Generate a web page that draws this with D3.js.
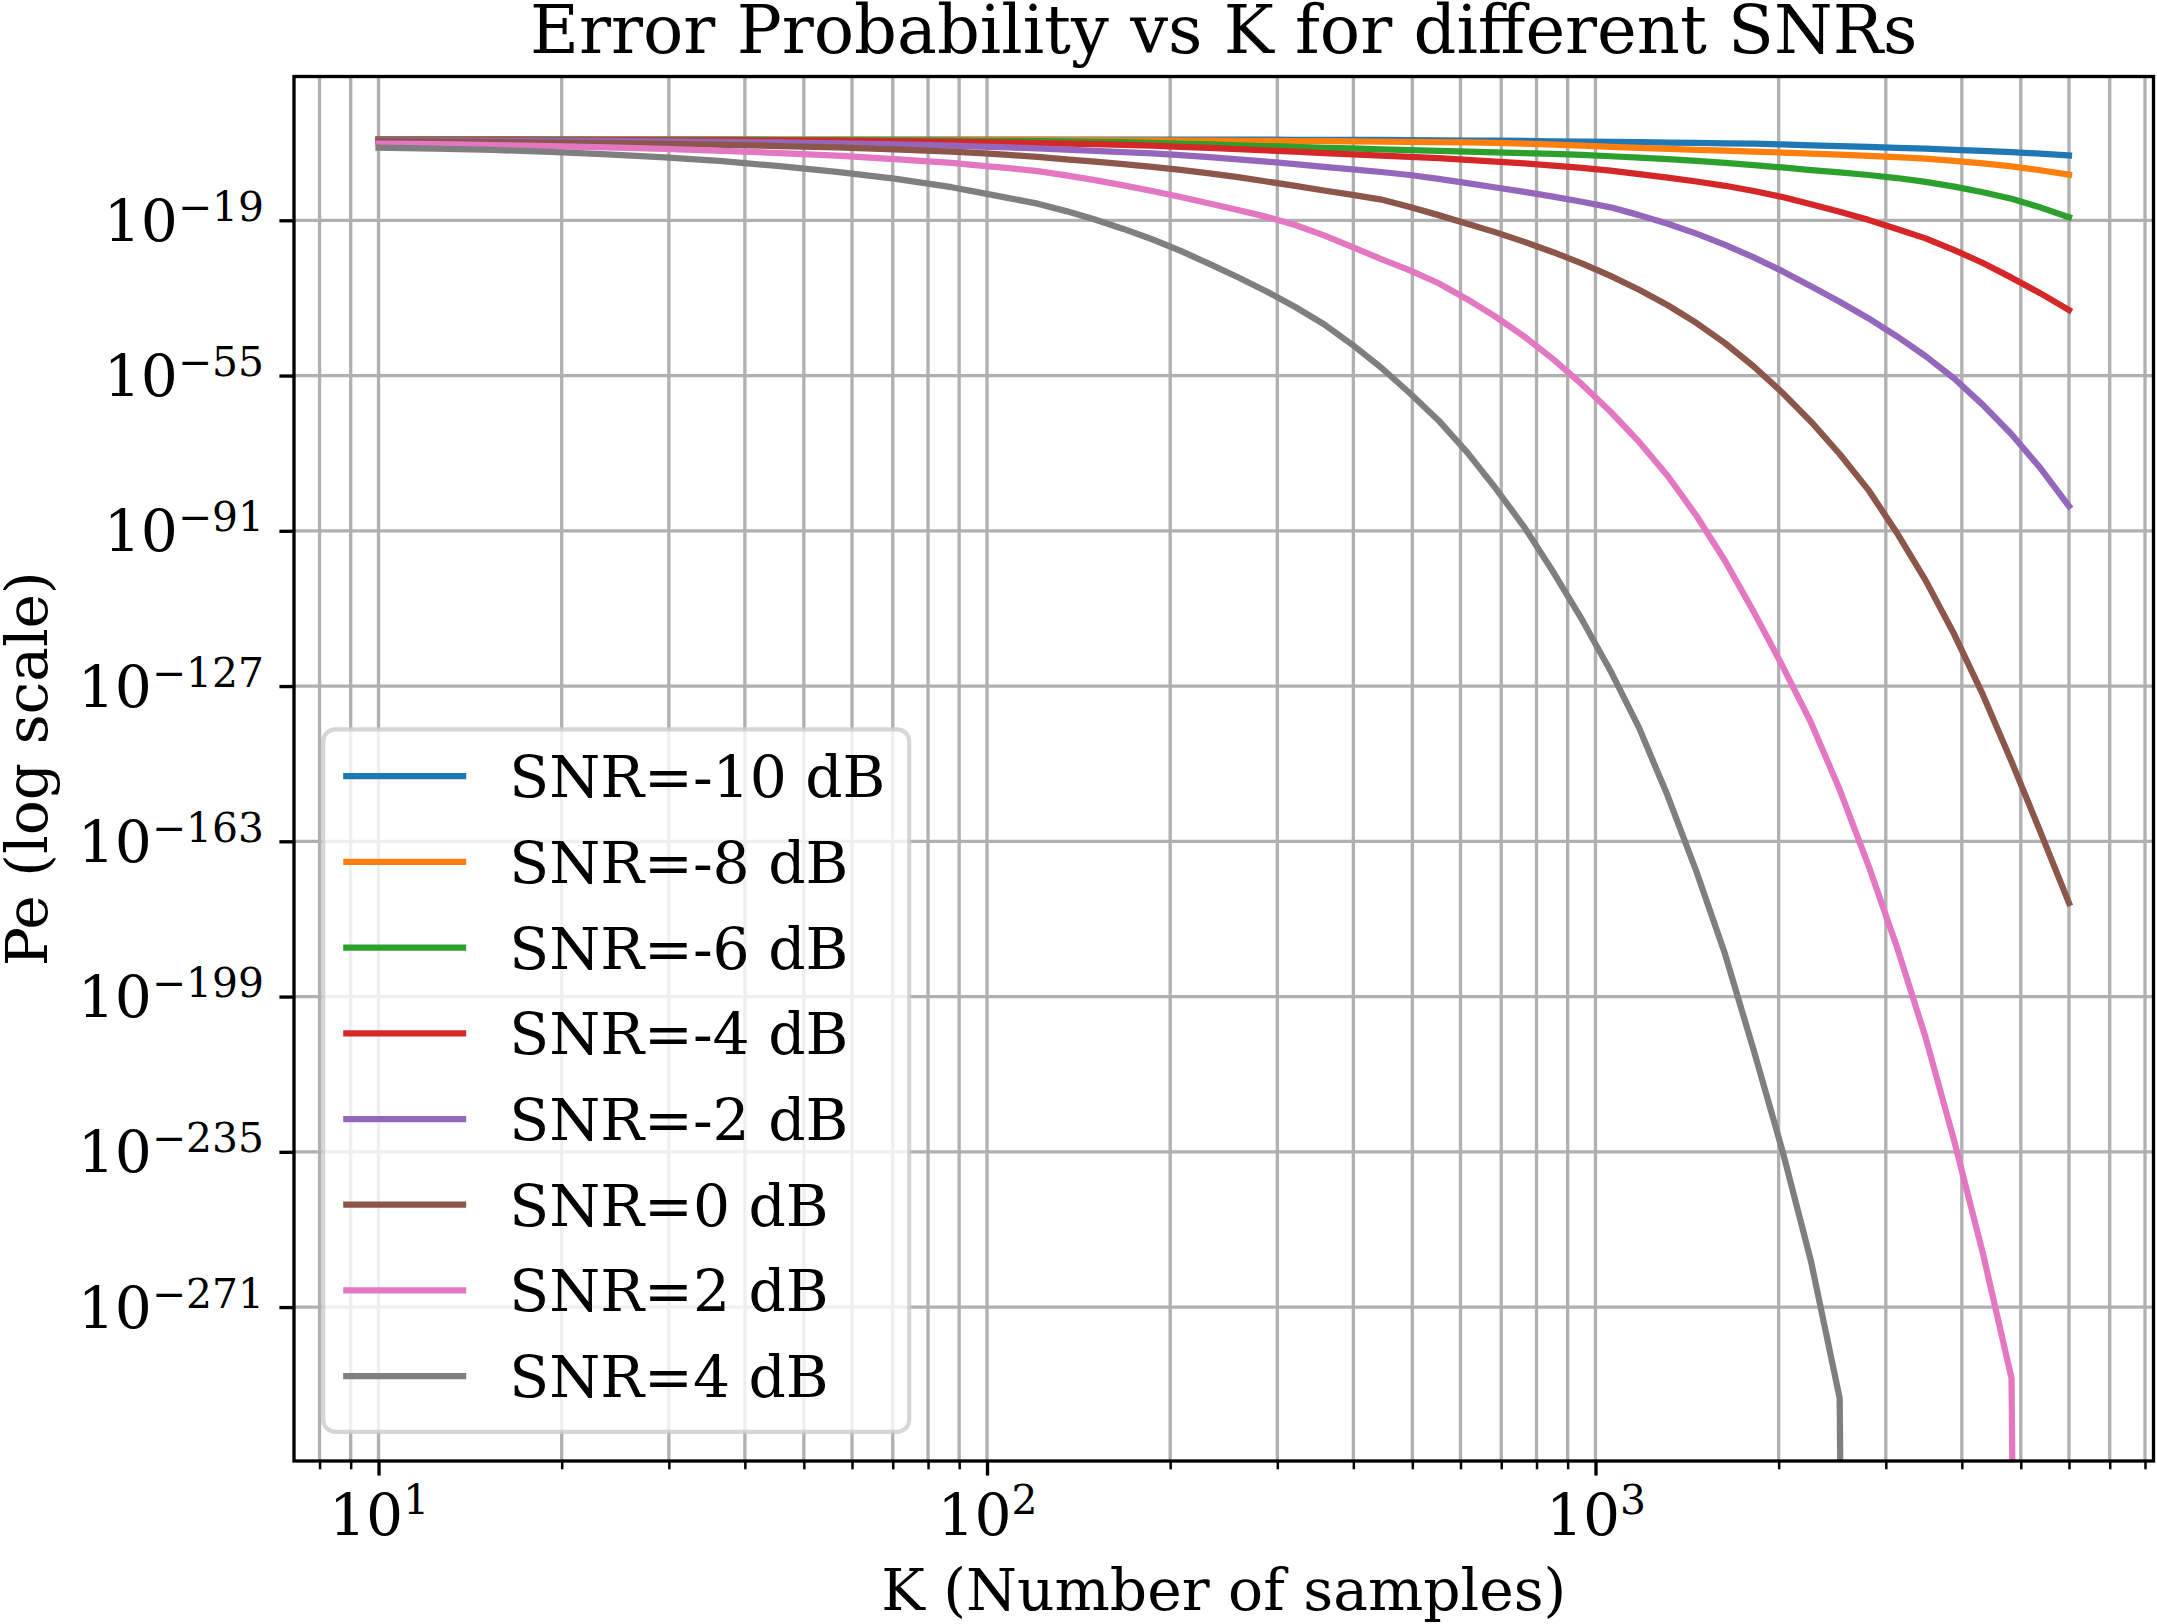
<!DOCTYPE html>
<html>
<head>
<meta charset="utf-8">
<script src="https://cdn.jsdelivr.net/npm/d3@7"></script>
<style>
  body { margin: 0; background: #fff; }
  text { font-family: "DejaVu Serif", serif; fill: #000; }
</style>
</head>
<body>
<script>
var kValues = [10, 12.42, 15.43, 19.16, 23.80, 29.57, 36.74, 45.64, 56.68, 70.41, 87.46,
  97.46, 108.6, 121.1, 134.9, 150.4, 167.6, 186.8, 208.1, 232.0, 258.5, 288.1, 321.1, 357.9, 398.9,
  444.6, 495.5, 552.2, 615.4, 685.9, 764.4, 851.9, 949.4, 1058.6, 1179.5, 1314.6, 1465.1, 1633.2,
  1820.1, 2028.5, 2260.6, 2519.3, 2807.8, 3129.1, 3487.4, 3886.5, 4331.6, 4827.6, 5380.2, 6000];

var snrLabels = ["SNR=-10 dB", "SNR=-8 dB", "SNR=-6 dB", "SNR=-4 dB",
  "SNR=-2 dB", "SNR=0 dB", "SNR=2 dB", "SNR=4 dB"];

var peSnrM10 = [0.562, 0.562, 0.562, 0.562, 0.550, 0.550, 0.550, 0.537, 0.537, 0.537, 0.525,
  0.525, 0.525, 0.513, 0.513, 0.501, 0.501, 0.501, 0.490, 0.490, 0.479, 0.479, 0.468, 0.457, 0.437,
  0.417, 0.389, 0.355, 0.316, 0.282, 0.245, 0.209, 0.178, 0.151, 0.126, 0.107, 0.0891, 0.0708,
  0.0562, 0.0398, 0.0251, 0.0158, 0.0100, 0.00631, 0.00398, 0.00224, 0.00126, 0.000631, 0.000282, 0.000112];
var peSnrM8 = [0.537, 0.537, 0.525, 0.525, 0.513, 0.513, 0.501, 0.490, 0.479, 0.468, 0.447,
  0.437, 0.427, 0.417, 0.398, 0.380, 0.363, 0.339, 0.316, 0.295, 0.275, 0.251, 0.234, 0.214, 0.195,
  0.178, 0.158, 0.138, 0.117, 0.0891, 0.0562, 0.0355, 0.0200, 0.0112, 0.00631, 0.00355, 0.00224,
  0.00141, 0.000891, 0.000501, 0.000282, 0.000158, 8.91e-5, 4.47e-5, 2.0e-5, 6.31e-6, 1.58e-6, 3.16e-7, 3.98e-8, 3.98e-9];
var peSnrM6 = [0.501, 0.501, 0.490, 0.479, 0.468, 0.457, 0.437, 0.407, 0.380, 0.339, 0.302,
  0.275, 0.251, 0.224, 0.191, 0.158, 0.126, 0.0891, 0.0631, 0.0398, 0.0251, 0.0158, 0.0100, 0.00631, 0.00447,
  0.00282, 0.00178, 0.00126, 0.000794, 0.000562, 0.000398, 0.000251, 0.000141, 7.08e-5, 3.55e-5, 1.58e-5,
  6.31e-6, 2.0e-6, 6.31e-7, 1.78e-7, 4.47e-8, 1.26e-8, 3.16e-9, 6.31e-10, 7.94e-11, 6.31e-12, 3.16e-13,
  1.0e-14, 1.0e-16, 5.01e-19];
var peSnrM4 = [0.447, 0.437, 0.427, 0.407, 0.389, 0.363, 0.331, 0.295, 0.251, 0.200, 0.151,
  0.126, 0.105, 0.0832, 0.0631, 0.0447, 0.0316, 0.0200, 0.0112, 0.00631, 0.00316, 0.00158, 0.000794,
  0.000398, 0.000200, 1.0e-4, 5.01e-5, 2.51e-5, 1.0e-5, 3.98e-6, 1.58e-6, 5.01e-7, 1.41e-7, 3.16e-8,
  5.01e-9, 7.94e-10, 1.0e-10, 1.0e-11, 6.31e-13, 2.51e-14, 5.01e-16, 1.0e-17, 1.26e-19, 1.0e-21,
  6.31e-24, 1.26e-26, 1.26e-29, 5.01e-33, 1.26e-36, 1.58e-40];
var peSnrM2 = [0.355, 0.339, 0.316, 0.282, 0.251, 0.200, 0.158, 0.112, 0.0708, 0.0398, 0.0200,
  0.0126, 0.00794, 0.00447, 0.00251, 0.00126, 0.000631, 0.000316, 0.000126, 4.47e-5, 1.41e-5, 3.98e-6,
  1.0e-6, 2.51e-7, 6.31e-8, 1.58e-8, 3.16e-9, 3.98e-10, 3.98e-11, 3.98e-12, 3.98e-13, 3.16e-14, 2.0e-15,
  1.0e-16, 1.58e-18, 1.58e-20, 7.94e-23, 2.0e-25, 2.51e-28, 1.58e-31, 5.01e-35, 1.26e-38, 2.0e-42,
  1.26e-46, 3.16e-51, 2.0e-56, 1.58e-62, 2.51e-69, 3.98e-77, 5.01e-86];
var peSnr0 = [0.200, 0.170, 0.141, 0.107, 0.0759, 0.0501, 0.0316, 0.0166, 0.00794, 0.00282, 0.000794,
  0.000355, 0.000141, 5.01e-5, 1.41e-5, 3.98e-6, 1.0e-6, 2.51e-7, 5.01e-8, 7.94e-9, 1.0e-9, 1.0e-10,
  1.0e-11, 7.94e-13, 7.94e-14, 6.31e-15, 1.26e-16, 1.58e-18, 1.58e-20, 1.58e-22, 1.0e-24, 3.98e-27,
  1.0e-29, 1.26e-32, 7.94e-36, 2.0e-39, 1.58e-43, 3.16e-48, 1.26e-53, 1.0e-59, 2.0e-66, 6.31e-74,
  3.16e-82, 3.16e-92, 3.16e-103, 1.0e-115, 1.0e-129, 3.16e-145, 2.0e-161, 5.01e-178];
var peSnr2 = [0.0631, 0.0447, 0.0282, 0.0158, 0.00794, 0.00355, 0.00126, 0.000398, 1.0e-4, 1.58e-5, 2.0e-6,
  5.01e-7, 1.26e-7, 2.51e-8, 2.51e-9, 2.0e-10, 1.26e-11, 6.31e-13, 2.51e-14, 7.94e-16, 2.51e-17, 6.31e-19,
  7.94e-21, 3.16e-23, 6.31e-26, 1.0e-28, 2.51e-31, 2.51e-34, 5.01e-38, 3.98e-42, 1.0e-46, 6.31e-52,
  1.0e-57, 3.98e-64, 3.98e-71, 5.01e-79, 3.16e-88, 1.0e-98, 1.58e-110, 5.01e-123, 3.16e-136, 1.0e-151,
  3.16e-169, 3.16e-188, 3.16e-209, 3.16e-233, 3.16e-259, 3.16e-288, 0, 0];
var peSnr4 = [0.00708, 0.00398, 0.00200, 0.000708, 0.000200, 3.98e-5, 5.13e-6, 3.63e-7, 1.74e-8, 4.79e-10, 4.68e-12,
  2.63e-13, 1.38e-14, 7.08e-16, 1.35e-17, 1.55e-19, 1.0e-21, 3.98e-24, 7.94e-27, 7.94e-30, 6.31e-33,
  3.16e-36, 7.94e-40, 7.94e-44, 1.26e-48, 6.31e-54, 7.94e-60, 3.98e-66, 1.58e-73, 6.31e-82, 6.31e-91,
  3.16e-101, 3.16e-112, 3.16e-124, 2.0e-137, 3.16e-153, 1.0e-170, 6.31e-190, 3.16e-212, 2.0e-235,
  3.98e-261, 7.94e-293, 0, 0, 0, 0, 0, 0, 0, 0];

var colors = ["#1f77b4", "#ff7f0e", "#2ca02c", "#d62728", "#9467bd", "#8c564b", "#e377c2", "#7f7f7f"];

var yTickValues = [1e-19, 1e-55, 1e-91, 1e-127, 1e-163, 1e-199, 1e-235, 1e-271];
var xTickValues = [1e1, 1e2, 1e3];

var peSeries = [peSnrM10, peSnrM8, peSnrM6, peSnrM4, peSnrM2, peSnr0, peSnr2, peSnr4];

var svgWidth = 2157, svgHeight = 1624;
var margin = {top: 76.5, right: 3.5, bottom: 163, left: 294};
var width = svgWidth - margin.left - margin.right;
var height = svgHeight - margin.top - margin.bottom;
var fontSize = 58.3;
var gridColor = "#b0b0b0";

var svg = d3.select("body").append("svg")
  .attr("width", svgWidth).attr("height", svgHeight);
svg.append("rect").attr("width", svgWidth).attr("height", svgHeight).attr("fill", "#fff");

var plot = svg.append("g").attr("transform", "translate(" + margin.left + "," + margin.top + ")");

// matplotlib style 5% margins, in log space
var kLo = Math.log10(d3.min(kValues)), kHi = Math.log10(d3.max(kValues));
var kPad = (kHi - kLo) * 0.05;
var xScale = d3.scaleLog()
  .domain([Math.pow(10, kLo - kPad), Math.pow(10, kHi + kPad)])
  .range([0, width]);

var positive = peSeries.flat().filter(v => v > 0);
var pLo = Math.log10(d3.min(positive)), pHi = Math.log10(d3.max(positive));
var pPad = (pHi - pLo) * 0.05;
var yScale = d3.scaleLog()
  .domain([Math.pow(10, pLo - pPad), Math.pow(10, pHi + pPad)])
  .range([height, 0]);

// zero values go far below the axes, like a clipped log transform
var yUnder = yScale(1e-300) + 700 * (yScale(1e-300) - yScale(1e-299));

var allXTicks = xScale.ticks();
var minorXTicks = allXTicks.filter(d => Math.abs(Math.log10(d) - Math.round(Math.log10(d))) > 1e-9);

// grid
var grid = plot.append("g");
grid.selectAll("line.gx").data(allXTicks).enter().append("line")
  .attr("x1", d => xScale(d)).attr("x2", d => xScale(d))
  .attr("y1", 0).attr("y2", height)
  .attr("stroke", gridColor).attr("stroke-width", 3.33);
grid.selectAll("line.gy").data(yTickValues).enter().append("line")
  .attr("x1", 0).attr("x2", width)
  .attr("y1", d => yScale(d)).attr("y2", d => yScale(d))
  .attr("stroke", gridColor).attr("stroke-width", 3.33);

// curves
plot.append("clipPath").attr("id", "clip")
  .append("rect").attr("width", width).attr("height", height);

var line = d3.line()
  .x(d => xScale(d.k))
  .y(d => d.pe > 0 ? yScale(d.pe) : yUnder);

var series = peSeries.map((vals, i) => ({
  label: snrLabels[i],
  color: colors[i],
  points: kValues.map((k, j) => ({k: k, pe: vals[j]}))
}));

plot.append("g").attr("clip-path", "url(#clip)")
  .selectAll("path").data(series).enter().append("path")
  .attr("d", d => line(d.points))
  .attr("fill", "none")
  .attr("stroke", d => d.color)
  .attr("stroke-width", 6.25)
  .attr("stroke-linejoin", "round")
  .attr("stroke-linecap", "square");

// axes
function powLabel(sel, exp, shift) {
  sel.append("tspan").text("10");
  sel.append("tspan").attr("dy", -shift).attr("font-size", fontSize * 0.7)
    .text(exp < 0 ? "\u2212" + Math.abs(exp) : String(exp));
}

var xAxis = plot.append("g").attr("transform", "translate(0," + height + ")")
  .call(d3.axisBottom(xScale).tickValues(xTickValues).tickSize(14.6).tickFormat(""));
xAxis.select(".domain").remove();
xAxis.selectAll(".tick line").attr("stroke", "#000").attr("stroke-width", 3.33);
xAxis.selectAll(".tick text").each(function(d) {
  var t = d3.select(this).attr("y", 74).attr("dy", null)
    .attr("font-size", fontSize).attr("text-anchor", "middle").attr("fill", "#000");
  powLabel(t, Math.round(Math.log10(d)), 21.5);
});

var xMinor = plot.append("g").attr("transform", "translate(0," + height + ")")
  .call(d3.axisBottom(xScale).tickValues(minorXTicks).tickSize(8.3).tickFormat(""));
xMinor.select(".domain").remove();
xMinor.selectAll(".tick line").attr("stroke", "#000").attr("stroke-width", 2.5);

var yAxis = plot.append("g")
  .call(d3.axisLeft(yScale).tickValues(yTickValues).tickSize(14.6).tickFormat(""));
yAxis.select(".domain").remove();
yAxis.selectAll(".tick line").attr("stroke", "#000").attr("stroke-width", 3.33);
yAxis.selectAll(".tick text").each(function(d) {
  var t = d3.select(this).attr("x", -30).attr("y", 20).attr("dy", null)
    .attr("font-size", fontSize).attr("text-anchor", "end").attr("fill", "#000");
  powLabel(t, Math.round(Math.log10(d)), 20);
});

// legend
var legendW = 586, legendH = 702.5, legendPad = 29.2;
var legend = plot.append("g")
  .attr("transform", "translate(" + legendPad + "," + (height - legendPad - legendH) + ")");
legend.append("rect")
  .attr("width", legendW).attr("height", legendH).attr("rx", 12).attr("ry", 12)
  .attr("fill", "#fff").attr("fill-opacity", 0.8)
  .attr("stroke", "#cccccc").attr("stroke-opacity", 0.8).attr("stroke-width", 4.17);
var rows = legend.selectAll("g.row").data(series).enter().append("g")
  .attr("transform", (d, i) => "translate(0," + (46.9 + i * 85.7) + ")");
rows.append("line")
  .attr("x1", 20).attr("x2", 143).attr("y1", 0).attr("y2", 0)
  .attr("stroke", d => d.color).attr("stroke-width", 6.25);
rows.append("text")
  .attr("x", 186).attr("y", 0).attr("dy", "0.36em")
  .attr("font-size", fontSize)
  .text(d => d.label);

// spines
plot.append("rect").attr("width", width).attr("height", height)
  .attr("fill", "none").attr("stroke", "#000").attr("stroke-width", 3.33);

// title and axis labels
plot.append("text")
  .attr("x", width / 2).attr("y", 53 - margin.top)
  .attr("text-anchor", "middle").attr("font-size", 67)
  .text("Error Probability vs K for different SNRs");

plot.append("text")
  .attr("x", width / 2).attr("y", height + 149)
  .attr("text-anchor", "middle").attr("font-size", fontSize)
  .text("K (Number of samples)");

plot.append("text")
  .attr("transform", "translate(" + (47 - margin.left) + "," + (height / 2) + ") rotate(-90)")
  .attr("text-anchor", "middle").attr("font-size", fontSize)
  .text("Pe (log scale)");
</script>
</body>
</html>
